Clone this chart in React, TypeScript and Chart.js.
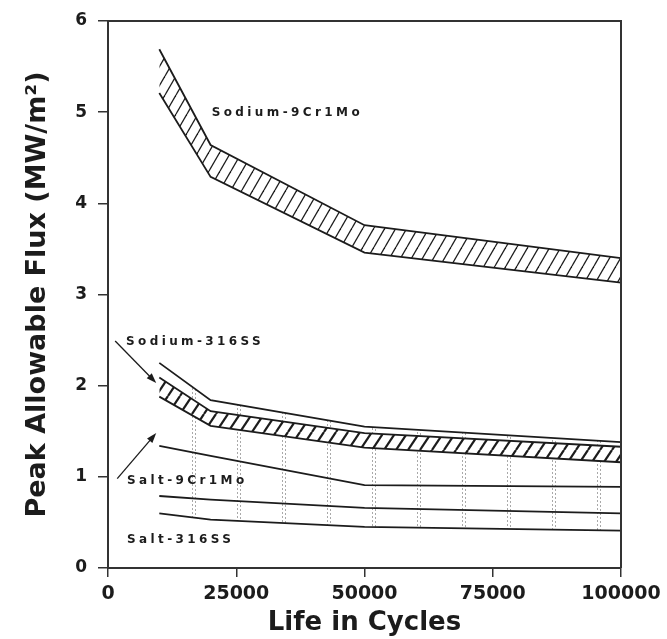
import { useEffect, useRef } from 'react';
import { Chart, registerables } from 'chart.js';

Chart.register(...registerables);

// ---- data ----
const cycles = [10000, 20000, 50000, 100000];
const sodium9CrUpper = [5.69, 4.64, 3.76, 3.40];
const sodium9CrLower = [5.21, 4.29, 3.46, 3.13];
const salt9CrUpper = [2.25, 1.84, 1.55, 1.38];
const sodium316Upper = [2.09, 1.72, 1.48, 1.33];
const sodium316Lower = [1.88, 1.56, 1.32, 1.16];
const salt9CrLower = [1.34, 1.23, 0.91, 0.89];
const salt316Upper = [0.79, 0.75, 0.66, 0.60];
const salt316Lower = [0.60, 0.53, 0.45, 0.41];

const xTickValues = [0, 25000, 50000, 75000, 100000];
const yTickValues = [0, 1, 2, 3, 4, 5, 6];

const bandLabels = ['Sodium-9Cr1Mo', 'Sodium-316SS', 'Salt-9Cr1Mo', 'Salt-316SS'];
const bandLabelX = [20200, 3500, 3700, 3700];
const bandLabelY = [4.99, 2.48, 0.96, 0.31];

const arrowFromX = [1400, 1800];
const arrowFromY = [2.49, 0.98];
const arrowToX = [9400, 9400];
const arrowToY = [2.03, 1.48];

const INK = '#1c1c1c';

function makeHatch(w: number, h: number, lw: number, color: string, bg: string | null) {
  const c = document.createElement('canvas');
  c.width = w;
  c.height = h;
  const g = c.getContext('2d')!;
  if (bg) {
    g.fillStyle = bg;
    g.fillRect(0, 0, w, h);
  }
  g.strokeStyle = color;
  g.lineWidth = lw;
  for (const dx of [-w, 0, w]) {
    g.beginPath();
    g.moveTo(dx, h);
    g.lineTo(dx + w, 0);
    g.stroke();
  }
  return g.createPattern(c, 'repeat')!;
}

function makeDotted() {
  const c = document.createElement('canvas');
  c.width = 45;
  c.height = 4;
  const g = c.getContext('2d')!;
  g.fillStyle = 'rgba(255,255,255,1)';
  g.fillRect(0, 0, 45, 4);
  g.fillStyle = '#a9a9a9';
  g.fillRect(12, 0, 1, 2);
  g.fillRect(15, 1, 1, 2);
  return g.createPattern(c, 'repeat')!;
}

function series(values: number[], fill: any, bg: any) {
  return {
    data: cycles.map((x, i) => ({ x, y: values[i] })),
    borderColor: INK,
    borderWidth: 1.8,
    pointRadius: 0,
    tension: 0,
    fill,
    backgroundColor: bg,
  };
}

const decorPlugin = {
  id: 'decor',
  afterDraw(chart: any) {
    const { ctx, chartArea, scales } = chart;
    const xs = scales.x;
    const ys = scales.y;
    ctx.save();
    // frame top & right
    ctx.strokeStyle = '#333';
    ctx.lineWidth = 2;
    ctx.beginPath();
    ctx.moveTo(chartArea.left, chartArea.top);
    ctx.lineTo(chartArea.right, chartArea.top);
    ctx.lineTo(chartArea.right, chartArea.bottom);
    ctx.stroke();

    // band labels
    ctx.fillStyle = INK;
    ctx.font = 'bold 12px "DejaVu Sans"';
    ctx.textAlign = 'left';
    ctx.textBaseline = 'middle';
    (ctx as any).letterSpacing = '3.4px';
    bandLabels.forEach((t, i) => {
      ctx.fillText(t, xs.getPixelForValue(bandLabelX[i]), ys.getPixelForValue(bandLabelY[i]));
    });
    (ctx as any).letterSpacing = '0px';

    // arrows
    ctx.strokeStyle = INK;
    ctx.fillStyle = INK;
    ctx.lineWidth = 1.3;
    arrowFromX.forEach((_, i) => {
      const x1 = xs.getPixelForValue(arrowFromX[i]);
      const y1 = ys.getPixelForValue(arrowFromY[i]);
      const x2 = xs.getPixelForValue(arrowToX[i]);
      const y2 = ys.getPixelForValue(arrowToY[i]);
      const a = Math.atan2(y2 - y1, x2 - x1);
      const L = 10;
      const W = 3.5;
      ctx.beginPath();
      ctx.moveTo(x1, y1);
      ctx.lineTo(x2 - Math.cos(a) * L * 0.8, y2 - Math.sin(a) * L * 0.8);
      ctx.stroke();
      ctx.beginPath();
      ctx.moveTo(x2, y2);
      ctx.lineTo(x2 - Math.cos(a) * L - Math.sin(a) * W, y2 - Math.sin(a) * L + Math.cos(a) * W);
      ctx.lineTo(x2 - Math.cos(a) * L + Math.sin(a) * W, y2 - Math.sin(a) * L - Math.cos(a) * W);
      ctx.closePath();
      ctx.fill();
    });
    ctx.restore();
  },
};

export default function App() {
  const ref = useRef<HTMLCanvasElement>(null);

  useEffect(() => {
    document.body.style.margin = '0';
    const canvas = ref.current!;
    const hatchA = makeHatch(11, 19, 1.3, INK, null);
    const hatchB = makeHatch(12, 18, 2.2, INK, '#ffffff');
    const dotted = makeDotted();

    const tickFontX = { family: '"DejaVu Sans"', size: 19, weight: 'bold' as const };
    const tickFontY = { family: '"DejaVu Sans"', size: 17, weight: 'bold' as const };

    const chart = new Chart(canvas, {
      type: 'line',
      data: {
        datasets: [
          series(sodium9CrUpper, '+1', hatchA),
          series(sodium9CrLower, false, 'transparent'),
          series(sodium316Upper, '+1', hatchB),
          series(sodium316Lower, false, 'transparent'),
          series(salt9CrUpper, '+2', dotted),
          series(salt9CrLower, false, 'transparent'),
          series(salt316Upper, '+1', dotted),
          series(salt316Lower, false, 'transparent'),
        ] as any,
      },
      options: {
        responsive: false,
        animation: false,
        events: [],
        layout: { padding: { top: 21, right: 46, bottom: 0, left: 0 } },
        plugins: {
          legend: { display: false },
          tooltip: { enabled: false },
          filler: { drawTime: 'beforeDatasetsDraw', propagate: false },
        } as any,
        scales: {
          x: {
            type: 'linear',
            min: 0,
            max: 100000,
            afterBuildTicks: (s: any) => {
              s.ticks = xTickValues.map((v) => ({ value: v }));
            },
            afterFit: (s: any) => {
              s.height = 71;
              s.paddingLeft = 0;
              s.paddingRight = 0;
            },
            grid: { drawOnChartArea: false, drawTicks: true, tickLength: 9, color: '#333', lineWidth: 1.5 },
            border: { display: true, color: '#333', width: 2 },
            ticks: {
              autoSkip: false,
              maxRotation: 0,
              padding: 6,
              color: INK,
              font: tickFontX,
              callback: (v: any) => String(v),
            },
            title: {
              display: true,
              text: 'Life in Cycles',
              color: INK,
              font: { family: '"DejaVu Sans"', size: 26, weight: 'bold' },
              padding: { top: 0, bottom: 0 },
            },
          },
          y: {
            type: 'linear',
            min: 0,
            max: 6,
            afterBuildTicks: (s: any) => {
              s.ticks = yTickValues.map((v) => ({ value: v }));
            },
            afterFit: (s: any) => {
              s.width = 108;
              s.paddingTop = 0;
              s.paddingBottom = 0;
            },
            grid: { drawOnChartArea: false, drawTicks: true, tickLength: 10, color: '#333', lineWidth: 1.5 },
            border: { display: true, color: '#333', width: 2 },
            ticks: {
              padding: 11,
              color: INK,
              font: tickFontY,
              callback: (v: any) => String(v),
            },
            title: {
              display: true,
              text: 'Peak Allowable Flux (MW/m²)',
              color: INK,
              font: { family: '"DejaVu Sans"', size: 27, weight: 'bold' },
              padding: { top: 22, bottom: 0 },
            },
          },
        },
      } as any,
      plugins: [decorPlugin],
    });
    return () => chart.destroy();
  }, []);

  return (
    <div style={{ position: 'absolute', left: 0, top: 0, width: 667, height: 639, background: '#fff' }}>
      <canvas ref={ref} width={667} height={639} style={{ display: 'block' }} />
    </div>
  );
}
